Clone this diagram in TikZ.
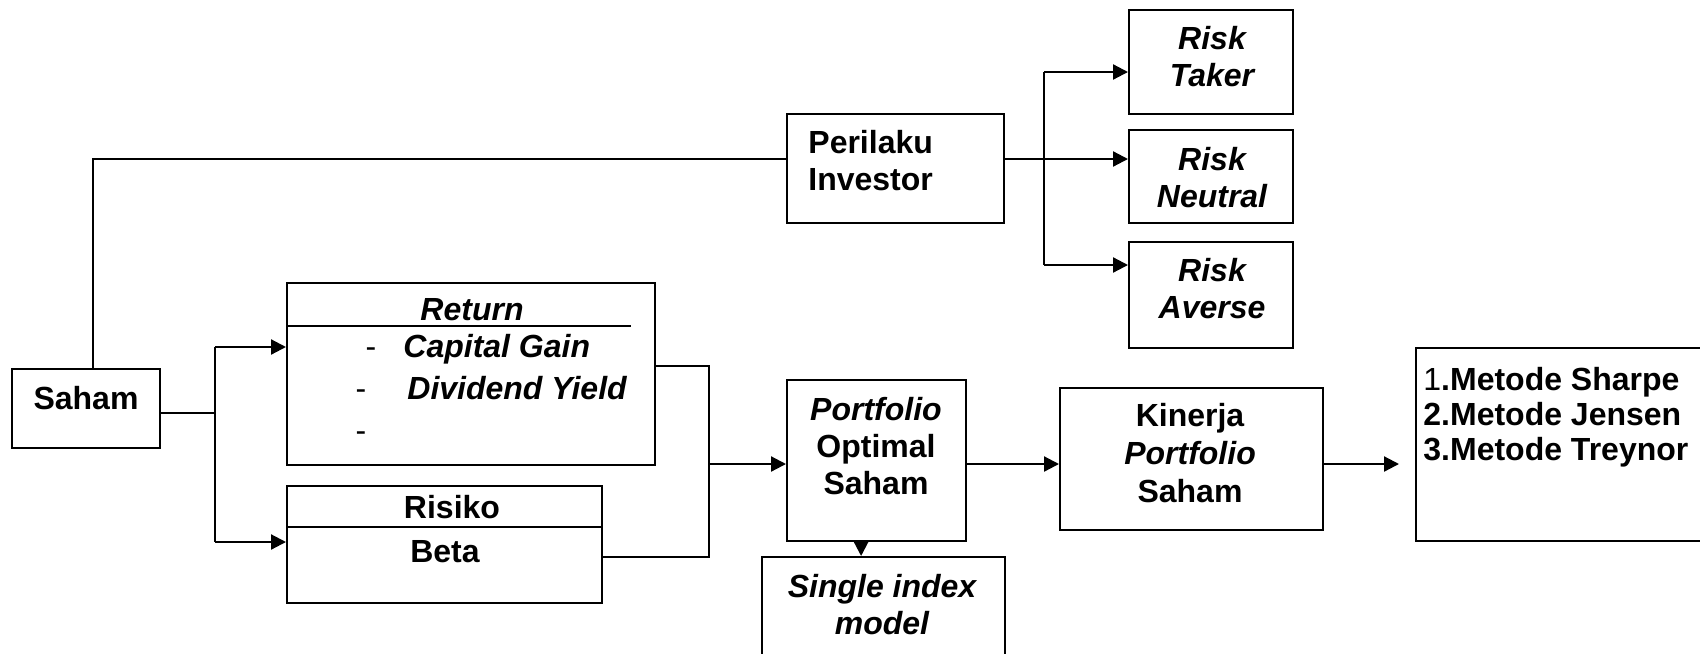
\documentclass[tikz,border=0pt]{standalone}
\usepackage{fontspec}
\setmainfont{Liberation Sans}
\usetikzlibrary{arrows.meta}
\begin{document}
\begin{tikzpicture}[x=0.5pt,y=-0.5pt,
  box/.style={draw,line width=1.1pt,inner sep=0pt,anchor=north west},
  conn/.style={line width=1.1pt},
  arr/.style={line width=1.1pt,-{Triangle[length=7.5pt,width=7.5pt]}},
  txt/.style={inner sep=0pt,font=\fontsize{16}{18.5}\selectfont\bfseries},
  itx/.style={txt,font=\fontsize{16}{18.5}\selectfont\bfseries\itshape}]
\useasboundingbox (0,0) rectangle (1700,653);
% boxes
\node[box,minimum width=74pt,minimum height=39.5pt] (saham) at (11,368) {};
\node[box,minimum width=108.5pt,minimum height=54.5pt] (peril) at (786,113) {};
\node[box,minimum width=82pt,minimum height=52pt] (taker) at (1128,9) {};
\node[box,minimum width=82pt,minimum height=46.5pt] (neutral) at (1128,129) {};
\node[box,minimum width=82pt,minimum height=53pt] (averse) at (1128,241) {};
\node[box,minimum width=184pt,minimum height=91pt] (ret) at (286,282) {};
\node[box,minimum width=157.5pt,minimum height=58.5pt] (ris) at (286,485) {};
\node[box,minimum width=89.5pt,minimum height=80.5pt] (port) at (786,379) {};
\node[box,minimum width=131.5pt,minimum height=71pt] (kin) at (1059,387) {};
\node[box,minimum width=150pt,minimum height=96.5pt] (met) at (1415,347) {};
\node[box,minimum width=121.5pt,minimum height=57.5pt] (single) at (761,556) {};
% inner lines
\draw[conn] (ret.west |- 0,326) -- (631,326);
\draw[conn] (ris.west |- 0,527) -- (ris.east |- 0,527);
% texts
\node[txt] (sahamT) at (86,398) {Saham};
\node[txt,align=left,anchor=west] (perilT) at (808,161) {Perilaku\\Investor};
\node[itx,align=center] (takerT) at (1212,56.5) {Risk\\Taker};
\node[itx,align=center] (neutralT) at (1212,177.5) {Risk\\Neutral};
\node[itx,align=center] (averseT) at (1212,289) {Risk\\Averse};
\node[itx] (retT) at (472,310) {Return};
\node[txt,anchor=base] (d1) at (371,357) {\mdseries -};
\node[itx,anchor=base west] (cgT) at (403,357) {Capital Gain};
\node[txt,anchor=base] (d2) at (361,399) {\mdseries -};
\node[itx,anchor=base west] (dyT) at (407,399) {Dividend Yield};
\node[txt,anchor=base] (d3) at (361,441) {\mdseries -};
\node[txt] (risT) at (452,507) {Risiko};
\node[txt] (betaT) at (445,552) {Beta};
\node[txt,align=center] (portT) at (876,446) {\itshape Portfolio\\Optimal\\Saham};
\node[txt,align=center,font=\fontsize{16}{19}\selectfont\bfseries] (kinT) at (1190,453) {Kinerja\\\itshape Portfolio\\Saham};
\node[txt,align=left,anchor=west,font=\fontsize{16}{17.5}\selectfont\bfseries] (metT) at (1423,417) {{\mdseries 1}.Metode Sharpe\\2.Metode Jensen\\3.Metode Treynor};
\node[itx,align=center] (singleT) at (882,605) {Single index\\model};
% connectors
\draw[conn] ([xshift=3.5pt]saham.north) |- (peril.west |- 0,159);
\coordinate (sj) at (215,413);
\draw[conn] (saham.east |- sj) -- (sj);
\draw[conn] (sj |- 0,347) -- (sj |- 0,542);
\draw[arr] (sj |- 0,347) -- (ret.west |- 0,347);
\draw[arr] (sj |- 0,542) -- (ris.west |- 0,542);
\coordinate (pj) at (1044,159);
\draw[arr] (peril.east |- pj) -- (neutral.west |- pj);
\draw[conn] (pj |- 0,72) -- (pj |- 0,265);
\draw[arr] (pj |- 0,72) -- (taker.west |- 0,72);
\draw[arr] (pj |- 0,265) -- (averse.west |- 0,265);
\coordinate (rj) at (709,464);
\draw[conn] (ret.east |- 0,366) -| (rj |- 0,557) -- (ris.east |- 0,557);
\draw[arr] (rj) -- (port.west |- rj);
\draw[arr] (port.east |- rj) -- (kin.west |- rj);
\coordinate (mend) at (1399,464);
\draw[arr] (kin.east |- rj) -- (mend);
\draw[arr] ([xshift=-7.75pt]port.south) -- ([xshift=-11.25pt]single.north);
\end{tikzpicture}
\end{document}
